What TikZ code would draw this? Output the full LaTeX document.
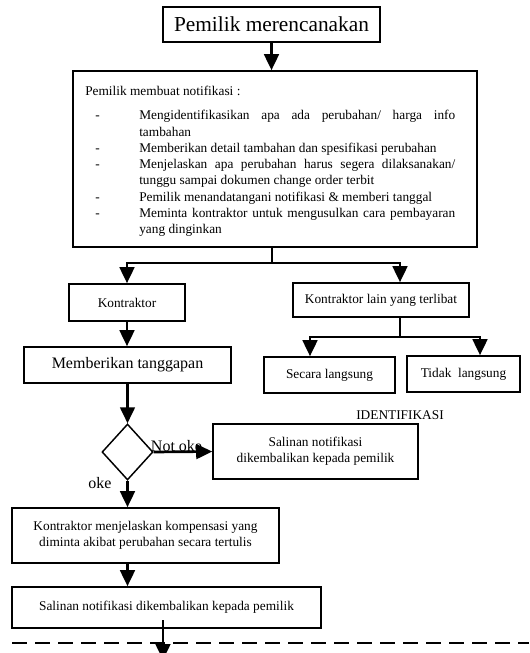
\documentclass[tikz,border=0pt]{standalone}
\usepackage{fontspec}
\setmainfont{Liberation Serif}
\usetikzlibrary{arrows.meta,shapes.geometric}

% dash item with hanging indent
\newcommand\notifitem{\par\hangindent=40.5pt\hangafter=1\noindent\makebox[40.5pt][l]{\hspace{7.5pt}-}}

\begin{document}
\begin{tikzpicture}[x=0.75pt, y=-0.75pt,
    boxnode/.style={draw, line width=1.2pt, inner sep=0pt, align=center,
        font=\fontsize{10}{12}\selectfont},
    conn/.style={line width=2pt, -{Triangle[width=11pt,length=12pt]}},
    plain/.style={line width=2pt}]

    \useasboundingbox (0,0) rectangle (529,653);

    % Top
    \node[boxnode, line width=1.5pt, minimum width=162.75pt, minimum height=26.25pt,
        font=\fontsize{16}{18}\selectfont] (plan) at (271.5,24.5) {Pemilik merencanakan};

    % notification box
    \node[boxnode, minimum width=303pt, minimum height=132pt] (notif) at (275,159) {};
    \node[anchor=north west, inner sep=0pt, text width=277.5pt, align=justify,
        font=\fontsize{10}{12.2}\selectfont] (notiftext) at (85,86) {%
        \hyphenpenalty=10000
        Pemilik membuat notifikasi :\par\vspace{6pt}
        \notifitem Mengidentifikasikan apa ada perubahan/ harga info\linebreak tambahan
        \notifitem Memberikan detail tambahan dan spesifikasi perubahan
        \notifitem Menjelaskan apa perubahan harus segera dilaksanakan/\linebreak tunggu sampai dokumen change order terbit
        \notifitem Pemilik menandatangani notifikasi \& memberi tanggal
        \notifitem Meminta kontraktor untuk mengusulkan cara pembayaran\linebreak yang dinginkan\par};

    % parties
    \node[boxnode, minimum width=87pt, minimum height=27.75pt] (kontr) at (127,302.5) {Kontraktor};
    \node[boxnode, minimum width=132pt, minimum height=25.5pt] (lain) at (381,300) {Kontraktor lain yang terlibat};
    \node[boxnode, minimum width=98.25pt, minimum height=27pt] (secara) at (329.5,375) {Secara langsung};
    \node[boxnode, minimum width=84.75pt, minimum height=27pt] (tidak) at (463.5,374) {Tidak\ \ langsung};
    \node[boxnode, minimum width=155.25pt, minimum height=27pt,
        font=\fontsize{12}{14}\selectfont] (memb) at (127.5,365) {Memberikan tanggapan};

    % decision
    \node[draw, diamond, line width=1.1pt, inner sep=0pt, minimum width=38.25pt,
        minimum height=42pt] (dec) at (127.5,452) {};
    \node[boxnode, minimum width=153.75pt, minimum height=41.25pt] (salin) at (315.5,451.5)
        {Salinan notifikasi\\dikembalikan kepada pemilik};
    \node[font=\fontsize{10}{12}\selectfont, inner sep=0pt] (ident) at (400,415) {IDENTIFIKASI};
    \node[font=\fontsize{12}{14}\selectfont, inner sep=0pt] (okelbl) at (100,483) {oke};

    \node[boxnode, minimum width=200.25pt, minimum height=41.25pt] (kont2) at (145.5,535.5)
        {Kontraktor menjelaskan kompensasi yang\\diminta akibat perubahan secara tertulis};
    \node[boxnode, minimum width=231.75pt, minimum height=30.75pt] (salin2) at (166.5,607.5)
        {Salinan notifikasi dikembalikan kepada pemilik};

    % branch points
    \coordinate (split1) at (272,263);
    \coordinate (lainx) at (400,0);
    \coordinate (split2) at (400,337);
    \coordinate (secx) at (310,0);
    \coordinate (tidx) at (480,0);
    \coordinate (endtop) at (163,620);
    \coordinate (endtip) at (163,660);

    % connectors
    \draw[conn] (plan.south) -- (plan.south |- notif.north);
    \draw[plain] (notif.south -| split1) -- (split1);
    \draw[conn] (split1) -| (kontr.north);
    \draw[conn] (split1) -| (lain.north -| lainx);
    \draw[plain] (lain.south -| lainx) -- (split2);
    \draw[conn] (split2) -| (secara.north -| secx);
    \draw[conn] (split2) -| (tidak.north -| tidx);
    \draw[conn] (kontr.south) -- (kontr.south |- memb.north);
    \draw[conn] (memb.south) -- (dec.north);
    \draw[conn] (dec.east) -- (salin.west)
        node[pos=0.39, above=-1pt, font=\fontsize{12}{14}\selectfont, inner sep=0pt] (notoke) {Not oke};
    \draw[conn] (dec.south) -- (dec.south |- kont2.north);
    \draw[conn] (kont2.south -| dec.south) -- (salin2.north -| dec.south);

    % dashed separator
    \draw[line width=1.5pt, dash pattern=on 11.25pt off 6pt] (12,643) -- (529,643);
    \draw[conn] (endtop) -- (endtip);

\end{tikzpicture}
\end{document}
